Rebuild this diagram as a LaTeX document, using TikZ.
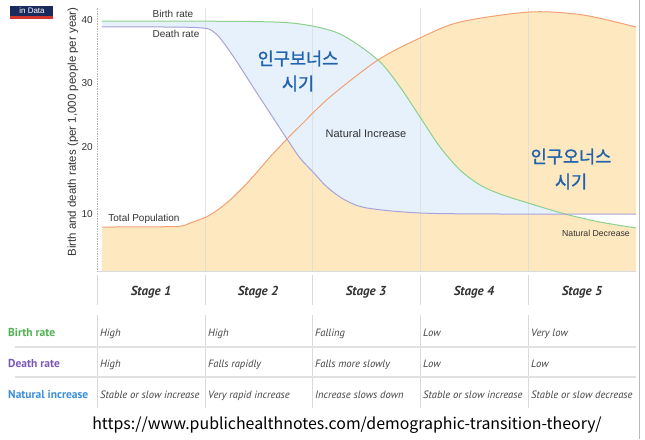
\documentclass[tikz,border=0pt]{standalone}
\usepackage{fontspec}
\setmainfont{Liberation Sans}
\newfontfamily\kofont{Noto Sans CJK KR}
\newfontfamily\kofontheavy[FakeBold=1.6]{Noto Sans CJK KR}
\newfontfamily\tabfont{PT Sans}
\definecolor{birthgreen}{HTML}{8DD08D}
\definecolor{deathpurple}{HTML}{A9A3DA}
\definecolor{poporange}{HTML}{F2A173}
\definecolor{popfill}{HTML}{FDE8C0}
\definecolor{incfill}{HTML}{E6F1FC}
\definecolor{gridgray}{HTML}{DADADA}
\definecolor{labelgray}{HTML}{333333}
\definecolor{kblue}{HTML}{2062AE}
\definecolor{rowgreen}{HTML}{4FB050}
\definecolor{rowpurple}{HTML}{7B58B8}
\definecolor{rowblue}{HTML}{3B8FDA}
\definecolor{cellgray}{HTML}{444444}
\definecolor{logonavy}{HTML}{1B2A5C}
\definecolor{logored}{HTML}{D2352B}

% curves of the chart (pixel-like units, y downward)
\newcommand\birthcurve{plot[smooth,tension=0.5] coordinates {(102,21) (250,21.5) (300,24) (340,34) (378,60) (400,87) (420,117) (440,147) (460,170) (480,185) (500,194) (528,203) (565,214) (600,222) (636,228)}}
\newcommand\deathcurve{plot[smooth,tension=0.5] coordinates {(102,27) (195,27.5) (215,33) (233,56) (253,87) (270,113) (287,139) (300,158) (313,172) (327,187) (345,200) (367,208) (420,213) (500,214) (636,214)}}
\newcommand\popcurve{plot[smooth,tension=0.5] coordinates {(102,227) (175,226.5) (190,223) (210,215) (230,200) (250,180) (270,157) (287,139) (300,126) (330,97) (378,60) (420,38) (460,22) (530,12) (583,15) (636,27)}}

\begin{document}
\begin{tikzpicture}[x=1pt,y=-1pt,
  chartlbl/.style={font=\fontsize{10}{12}\selectfont, text=labelgray, inner sep=0pt},
  ticklbl/.style={font=\fontsize{10}{12}\selectfont, text=labelgray, inner sep=0pt, anchor=east},
  kolbl/.style={font=\kofontheavy\fontsize{17.5}{25}\selectfont, text=kblue, align=center, inner sep=0pt},
  stagehdr/.style={font=\tabfont\bfseries\itshape\fontsize{13}{15}\selectfont, text=labelgray, inner sep=0pt, anchor=base},
  rowlbl/.style={font=\tabfont\bfseries\fontsize{11.5}{13}\selectfont, inner sep=0pt, anchor=base west},
  cell/.style={font=\tabfont\itshape\fontsize{10.6}{12}\selectfont, text=cellgray, inner sep=0pt, anchor=base west},
  gridline/.style={draw=gridgray, line width=0.6pt},
  tabline/.style={draw=gridgray!80, line width=1.2pt},
  curve/.style={line width=1pt}]
\useasboundingbox (0,0) rectangle (645,439);
\fill[white] (0,0) rectangle (645,439);

% logo fragment
\fill[logonavy] (10,6) rectangle (53,16);
\fill[logored] (10,16) rectangle (53,19);
\node[font=\fontsize{8}{9}\selectfont, text=white, inner sep=0pt] (logo) at (32,11) {in Data};

% areas
\fill[popfill] \popcurve -- (636,271) -- (102,271) -- cycle;
\begin{scope}
  \clip \birthcurve -- (636,275) -- (102,275) -- cycle;
  \fill[incfill] \deathcurve -- (636,5) -- (102,5) -- cycle;
\end{scope}
\begin{scope}
  \clip \birthcurve -- (636,5) -- (102,5) -- cycle;
  \fill[white] \deathcurve -- (636,275) -- (102,275) -- cycle;
\end{scope}

% stage grid
\foreach \gx in {205,312,420,528} {
  \draw[gridline, draw opacity=0.7] (\gx,8) -- (\gx,271);
}
\draw[gridline] (97,271) -- (636,271);
\draw[gray!60, line width=0.7pt, dash pattern=on 1.5pt off 1pt] (97,8) -- (97,271);
\foreach \gx in {97,205,312,420,528} {
  \draw[gridline] (\gx,275) -- (\gx,279);
}

% curves
\draw[curve, birthgreen] \birthcurve;
\draw[curve, deathpurple] \deathcurve;
\draw[curve, poporange] \popcurve;

% y axis
\foreach \v/\ty in {40/20,30/83,20/147,10/214} {
  \node[ticklbl] at (93,\ty) {\v};
}
\node[chartlbl, font=\fontsize{11.5}{13}\selectfont, rotate=90] (yaxis) at (73,132) {Birth and death rates (per 1,000 people per year)};

% curve labels
\node[chartlbl] (birthlbl) at (173,14) {Birth rate};
\node[chartlbl] (deathlbl) at (176,34) {Death rate};
\node[chartlbl] (poplbl) at (144,219) {Total Population};
\node[chartlbl, font=\fontsize{11}{13}\selectfont] (inclbl) at (366,134) {Natural Increase};
\node[chartlbl, font=\fontsize{8.7}{10}\selectfont] (declbl) at (596,233) {Natural Decrease};
\node[kolbl] (bonus) at (298,71) {인구보너스\\시기};
\node[kolbl] (onus) at (571,169) {인구오너스\\시기};

% table
\foreach \gx in {97,205,312,420,528} {
  \draw[gridline] (\gx,278) -- (\gx,305);
  \draw[gridline] (\gx,315) -- (\gx,408);
}
\draw[tabline] (15,347) -- (636,347);
\draw[tabline] (15,377) -- (636,377);

\node[stagehdr] (s1) at (151,295.5) {Stage 1};
\node[stagehdr] (s2) at (258,295.5) {Stage 2};
\node[stagehdr] (s3) at (366,295.5) {Stage 3};
\node[stagehdr] (s4) at (474,295.5) {Stage 4};
\node[stagehdr] (s5) at (582,295.5) {Stage 5};

\node[rowlbl, text=rowgreen] (rbirth) at (8,336) {Birth rate};
\node[rowlbl, text=rowpurple] (rdeath) at (8,367) {Death rate};
\node[rowlbl, text=rowblue] (rinc) at (8,398) {Natural increase};

\node[cell] at (100,336) {High};
\node[cell] at (208,336) {High};
\node[cell] at (315,336) {Falling};
\node[cell] at (423,336) {Low};
\node[cell] at (531,336) {Very low};

\node[cell] at (100,367) {High};
\node[cell] at (208,367) {Falls rapidly};
\node[cell] at (315,367) {Falls more slowly};
\node[cell] at (423,367) {Low};
\node[cell] at (531,367) {Low};

\node[cell] at (100,398) {Stable or slow increase};
\node[cell] at (208,398) {Very rapid increase};
\node[cell] at (315,398) {Increase slows down};
\node[cell] at (423,398) {Stable or slow increase};
\node[cell] at (531,398) {Stable or slow decrease};

% source
\node[font=\kofont\fontsize{15.9}{17}\selectfont, text=black, inner sep=0pt] (src) at (347,425) {https://www.publichealthnotes.com/demographic-transition-theory/};

% right edge
\draw[gray!55, line width=0.8pt] (639.5,0) -- (639.5,439);
\end{tikzpicture}
\end{document}
